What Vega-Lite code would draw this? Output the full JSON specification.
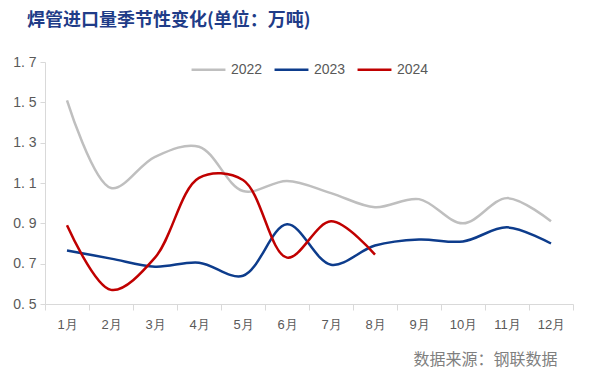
{
  "$schema": "https://vega.github.io/schema/vega-lite/v6.json",
  "autosize": "none",
  "width": 528,
  "height": 242,
  "padding": {"left": 45, "top": 62, "right": 16, "bottom": 87},
  "background": "white",
  "title": {
    "text": "焊管进口量季节性变化(单位：万吨)",
    "anchor": "start",
    "frame": "group",
    "dx": -18,
    "offset": 21,
    "font": "Noto Sans CJK SC",
    "fontSize": 18,
    "fontWeight": "bold",
    "color": "#1F3C88"
  },
  "config": {
    "view": {"stroke": null},
    "font": "Liberation Sans"
  },
  "data": {
    "values": [
      {"month": "1月", "year": "2022", "value": 1.51},
      {"month": "2月", "year": "2022", "value": 1.075},
      {"month": "3月", "year": "2022", "value": 1.23},
      {"month": "4月", "year": "2022", "value": 1.28},
      {"month": "5月", "year": "2022", "value": 1.06},
      {"month": "6月", "year": "2022", "value": 1.11},
      {"month": "7月", "year": "2022", "value": 1.05},
      {"month": "8月", "year": "2022", "value": 0.98},
      {"month": "9月", "year": "2022", "value": 1.02},
      {"month": "10月", "year": "2022", "value": 0.9},
      {"month": "11月", "year": "2022", "value": 1.025},
      {"month": "12月", "year": "2022", "value": 0.91},
      {"month": "1月", "year": "2023", "value": 0.765},
      {"month": "2月", "year": "2023", "value": 0.725},
      {"month": "3月", "year": "2023", "value": 0.685},
      {"month": "4月", "year": "2023", "value": 0.705},
      {"month": "5月", "year": "2023", "value": 0.64},
      {"month": "6月", "year": "2023", "value": 0.895},
      {"month": "7月", "year": "2023", "value": 0.695},
      {"month": "8月", "year": "2023", "value": 0.79},
      {"month": "9月", "year": "2023", "value": 0.82},
      {"month": "10月", "year": "2023", "value": 0.81},
      {"month": "11月", "year": "2023", "value": 0.88},
      {"month": "12月", "year": "2023", "value": 0.80},
      {"month": "1月", "year": "2024", "value": 0.89},
      {"month": "2月", "year": "2024", "value": 0.57},
      {"month": "3月", "year": "2024", "value": 0.73},
      {"month": "4月", "year": "2024", "value": 1.125},
      {"month": "5月", "year": "2024", "value": 1.115},
      {"month": "6月", "year": "2024", "value": 0.73},
      {"month": "7月", "year": "2024", "value": 0.91},
      {"month": "8月", "year": "2024", "value": 0.745}
    ]
  },
  "mark": {"type": "line", "interpolate": "catmull-rom", "strokeWidth": 2.5},
  "encoding": {
    "x": {
      "field": "month",
      "type": "ordinal",
      "sort": ["1月","2月","3月","4月","5月","6月","7月","8月","9月","10月","11月","12月"],
      "scale": {"type": "band", "paddingInner": 0, "paddingOuter": 0},
      "bandPosition": 0.5,
      "axis": {
        "title": "数据来源：钢联数据",
        "titleAnchor": "end",
        "titleFont": "Noto Sans CJK SC",
        "titleFontWeight": "normal",
        "titleFontSize": 16,
        "titleColor": "#7F7F7F",
        "titlePadding": 20,
        "titleX": 512,
        "labelAngle": 0,
        "labelFont": "Liberation Sans",
        "labelFontSize": 13,
        "labelColor": "#595959",
        "labelPadding": 8,
        "domainColor": "#D9D9D9",
        "tickColor": "#D9D9D9",
        "tickBand": "extent",
        "tickSize": 6,
        "grid": false
      }
    },
    "y": {
      "field": "value",
      "type": "quantitative",
      "scale": {"domain": [0.5, 1.7], "nice": false, "zero": false},
      "axis": {
        "title": null,
        "values": [0.5, 0.7, 0.9, 1.1, 1.3, 1.5, 1.7],
        "labelExpr": "replace(format(datum.value, '.1f'), '.', '. ')",
        "labelFont": "Liberation Sans",
        "labelFontSize": 14,
        "labelColor": "#595959",
        "labelPadding": 4,
        "domainColor": "#D9D9D9",
        "tickColor": "#D9D9D9",
        "tickSize": 5,
        "grid": false
      }
    },
    "color": {
      "field": "year",
      "type": "nominal",
      "scale": {"domain": ["2022", "2023", "2024"], "range": ["#BFBFBF", "#0D3C8C", "#C00000"]},
      "legend": {
        "title": null,
        "orient": "none",
        "direction": "horizontal",
        "legendX": 145,
        "legendY": -11,
        "symbolType": "stroke",
        "symbolSize": 1150,
        "symbolStrokeWidth": 2.5,
        "labelFont": "Liberation Sans",
        "labelFontSize": 14,
        "labelColor": "#595959",
        "columnPadding": 6,
        "labelOffset": 4
      }
    }
  }
}
